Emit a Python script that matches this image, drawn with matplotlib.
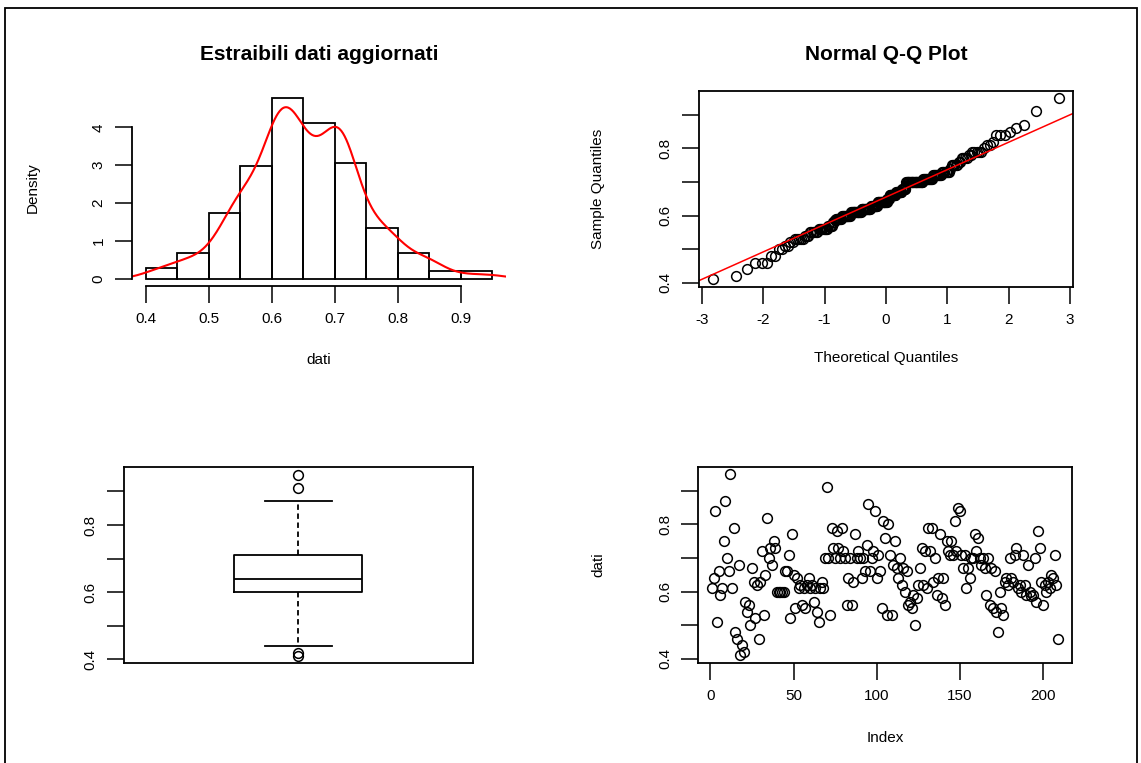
import numpy as np
import matplotlib
matplotlib.use("Agg")
import matplotlib.pyplot as plt
from matplotlib.patches import Rectangle
from statistics import NormalDist

plt.rcParams['font.family'] = ['Liberation Sans', 'DejaVu Sans']

# values, in order (n = 209)
dati = np.array([
    0.61, 0.64, 0.84, 0.51, 0.66, 0.59, 0.61, 0.75, 0.87, 0.70,
    0.66, 0.95, 0.61, 0.79, 0.48, 0.46, 0.68, 0.41, 0.44, 0.42,
    0.57, 0.54, 0.56, 0.50, 0.67, 0.63, 0.52, 0.62, 0.46, 0.63,
    0.72, 0.53, 0.65, 0.82, 0.70, 0.73, 0.68, 0.75, 0.73, 0.60,
    0.60, 0.60, 0.60, 0.60, 0.66, 0.66, 0.71, 0.52, 0.77, 0.65,
    0.55, 0.64, 0.61, 0.62, 0.56, 0.61, 0.55, 0.62, 0.64, 0.61,
    0.62, 0.57, 0.61, 0.54, 0.51, 0.61, 0.63, 0.61, 0.70, 0.91,
    0.70, 0.53, 0.79, 0.73, 0.70, 0.78, 0.73, 0.70, 0.79, 0.72,
    0.70, 0.56, 0.64, 0.70, 0.56, 0.63, 0.77, 0.70, 0.72, 0.70,
    0.64, 0.70, 0.66, 0.74, 0.86, 0.66, 0.70, 0.72, 0.84, 0.64,
    0.71, 0.66, 0.55, 0.81, 0.76, 0.53, 0.80, 0.71, 0.53, 0.68,
    0.75, 0.67, 0.64, 0.70, 0.62, 0.67, 0.60, 0.66, 0.56, 0.57,
    0.55, 0.59, 0.50, 0.58, 0.62, 0.67, 0.73, 0.62, 0.72, 0.61,
    0.79, 0.72, 0.79, 0.63, 0.70, 0.59, 0.64, 0.77, 0.58, 0.64,
    0.56, 0.75, 0.72, 0.71, 0.75, 0.71, 0.81, 0.72, 0.85, 0.84,
    0.71, 0.67, 0.71, 0.61, 0.67, 0.64, 0.70, 0.70, 0.77, 0.72,
    0.76, 0.70, 0.68, 0.70, 0.67, 0.59, 0.70, 0.56, 0.67, 0.55,
    0.66, 0.54, 0.48, 0.60, 0.55, 0.53, 0.63, 0.64, 0.62, 0.70,
    0.64, 0.63, 0.71, 0.73, 0.61, 0.62, 0.60, 0.71, 0.62, 0.59,
    0.68, 0.60, 0.587, 0.59, 0.70, 0.57, 0.78, 0.73, 0.63, 0.56,
    0.62, 0.60, 0.63, 0.61, 0.65, 0.64, 0.71, 0.62, 0.46,
])
breaks = [0.40, 0.45, 0.50, 0.55, 0.60, 0.65, 0.70, 0.75, 0.80, 0.85, 0.90, 0.95]
hist_xticks = [0.4, 0.5, 0.6, 0.7, 0.8, 0.9]
hist_yticks = [0, 1, 2, 3, 4]
val_ticks = [0.4, 0.5, 0.6, 0.7, 0.8, 0.9]
val_labels = ['0.4', '', '0.6', '', '0.8', '']
qq_ticks = [-3, -2, -1, 0, 1, 2, 3]
idx_ticks = [0, 50, 100, 150, 200]

n = len(dati)
W, H = 1141, 763
fig = plt.figure(figsize=(W / 100, H / 100), dpi=100)


def px_axes(l, t, r, b):
    return fig.add_axes([l / W, 1 - b / H, (r - l) / W, (b - t) / H])


def r_range(lo, hi):
    d = (hi - lo) * 0.04
    return lo - d, hi + d


def style(ax):
    ax.tick_params(direction='out', length=12, width=1.1, labelsize=11, pad=7)
    for s in ax.spines.values():
        s.set_linewidth(1.3)


def rot_ylabels(ax):
    for lab in ax.get_yticklabels():
        lab.set_rotation(90)
        lab.set_va('center')


# ---- histogram + density
ax1 = px_axes(131.8, 90.4, 506, 285.9)
edges = np.array(breaks)
bins = np.searchsorted(edges, dati, side='left') - 1
bins[bins < 0] = 0
counts = np.bincount(bins, minlength=len(edges) - 1)
dens = counts / (n * 0.05)
ax1.bar(edges[:-1], dens, width=0.05, align='edge', fill=False, edgecolor='black', linewidth=1.3)

sd = dati.std(ddof=1)
iqr = np.quantile(dati, 0.75) - np.quantile(dati, 0.25)
bw = 0.9 * min(sd, iqr / 1.34) * n ** -0.2
xs = np.linspace(dati.min() - 3 * bw, dati.max() + 3 * bw, 512)
kde = np.exp(-0.5 * ((xs[:, None] - dati[None, :]) / bw) ** 2).sum(axis=1) / (n * bw * np.sqrt(2 * np.pi))
ax1.plot(xs, kde, color='red', linewidth=1.5)

ax1.set_xlim(r_range(0.40, 0.95))
ax1.set_ylim(r_range(0, dens.max()))
ax1.spines['top'].set_visible(False)
ax1.spines['right'].set_visible(False)
ax1.spines['left'].set_bounds(0, 4)
ax1.spines['bottom'].set_bounds(0.4, 0.9)
ax1.set_xticks(hist_xticks, [f'{t:.1f}' for t in hist_xticks])
ax1.set_yticks(hist_yticks, [str(t) for t in hist_yticks])
style(ax1)
rot_ylabels(ax1)
fig.text(318.9 / W, 1 - 55 / H, 'Estraibili dati aggiornati', ha='center', va='center',
         fontsize=15, fontweight='bold')
fig.text(318.9 / W, 1 - 360 / H, 'dati', ha='center', va='center', fontsize=11)
fig.text(33 / W, 1 - 188 / H, 'Density', ha='center', va='center', rotation=90, fontsize=11)

# ---- normal Q-Q plot
ax2 = px_axes(699, 90.7, 1072.7, 286.7)
nd = NormalDist()
theo = np.array([nd.inv_cdf((i - 0.5) / n) for i in range(1, n + 1)])
samp = np.sort(dati)
ax2.plot(theo, samp, 'o', mfc='none', mec='black', ms=7, mew=1.1)
qx = np.array([nd.inv_cdf(0.25), nd.inv_cdf(0.75)])
qy = np.quantile(dati, [0.25, 0.75])
slope = (qy[1] - qy[0]) / (qx[1] - qx[0])
ax2.axline((0, qy[0] - slope * qx[0]), slope=slope, color='red', linewidth=1.1)
ax2.set_xlim(r_range(theo.min(), theo.max()))
ax2.set_ylim(r_range(samp.min(), samp.max()))
ax2.set_xticks(qq_ticks, [str(t) for t in qq_ticks])
ax2.set_yticks(val_ticks, val_labels)
style(ax2)
rot_ylabels(ax2)
fig.text(885.9 / W, 1 - 55 / H, 'Normal Q-Q Plot', ha='center', va='center',
         fontsize=15, fontweight='bold')
fig.text(885.9 / W, 1 - 358 / H, 'Theoretical Quantiles', ha='center', va='center', fontsize=11)
fig.text(598 / W, 1 - 188.7 / H, 'Sample Quantiles', ha='center', va='center', rotation=90, fontsize=11)

# ---- boxplot (R style hinges)
ax3 = px_axes(124, 467.3, 472.7, 663.3)
d = np.floor((n + 3) / 2) / 2
pos = np.array([1, d, (n + 1) / 2, n + 1 - d, n]) - 1
five = 0.5 * (samp[np.floor(pos).astype(int)] + samp[np.ceil(pos).astype(int)])
h_iqr = five[3] - five[1]
lo_f, hi_f = five[1] - 1.5 * h_iqr, five[3] + 1.5 * h_iqr
inside = samp[(samp >= lo_f) & (samp <= hi_f)]
stats = [dict(med=five[2], q1=five[1], q3=five[3], whislo=inside.min(), whishi=inside.max(),
              fliers=samp[(samp < lo_f) | (samp > hi_f)])]
ax3.bxp(stats, positions=[0.5], widths=0.367, capwidths=0.193,
        boxprops=dict(color='black', linewidth=1.3),
        medianprops=dict(color='black', linewidth=1.3),
        whiskerprops=dict(color='black', linewidth=1.3, linestyle=(0, (3, 2))),
        capprops=dict(color='black', linewidth=1.3),
        flierprops=dict(marker='o', mfc='none', mec='black', ms=7, mew=1.1))
ax3.set_xlim(0, 1)
ax3.set_ylim(r_range(samp.min(), samp.max()))
ax3.set_xticks([])
ax3.set_yticks(val_ticks, val_labels)
style(ax3)
rot_ylabels(ax3)

# ---- index plot
ax4 = px_axes(698.3, 466.7, 1071.7, 662.7)
idx = np.arange(1, n + 1)
ax4.plot(idx, dati, 'o', mfc='none', mec='black', ms=7, mew=1.1)
ax4.set_xlim(r_range(1, n))
ax4.set_ylim(r_range(dati.min(), dati.max()))
ax4.set_xticks(idx_ticks, [str(t) for t in idx_ticks])
ax4.set_yticks(val_ticks, val_labels)
style(ax4)
rot_ylabels(ax4)
fig.text(885 / W, 1 - 738 / H, 'Index', ha='center', va='center', fontsize=11)
fig.text(598 / W, 1 - 565 / H, 'dati', ha='center', va='center', rotation=90, fontsize=11)

# outer frame
fig.add_artist(Rectangle((5 / W, -0.02), (1137 - 5) / W, 1.02 - 8 / H, transform=fig.transFigure,
                         fill=False, edgecolor='black', linewidth=1.3))

fig.savefig('out.png', dpi=100)
